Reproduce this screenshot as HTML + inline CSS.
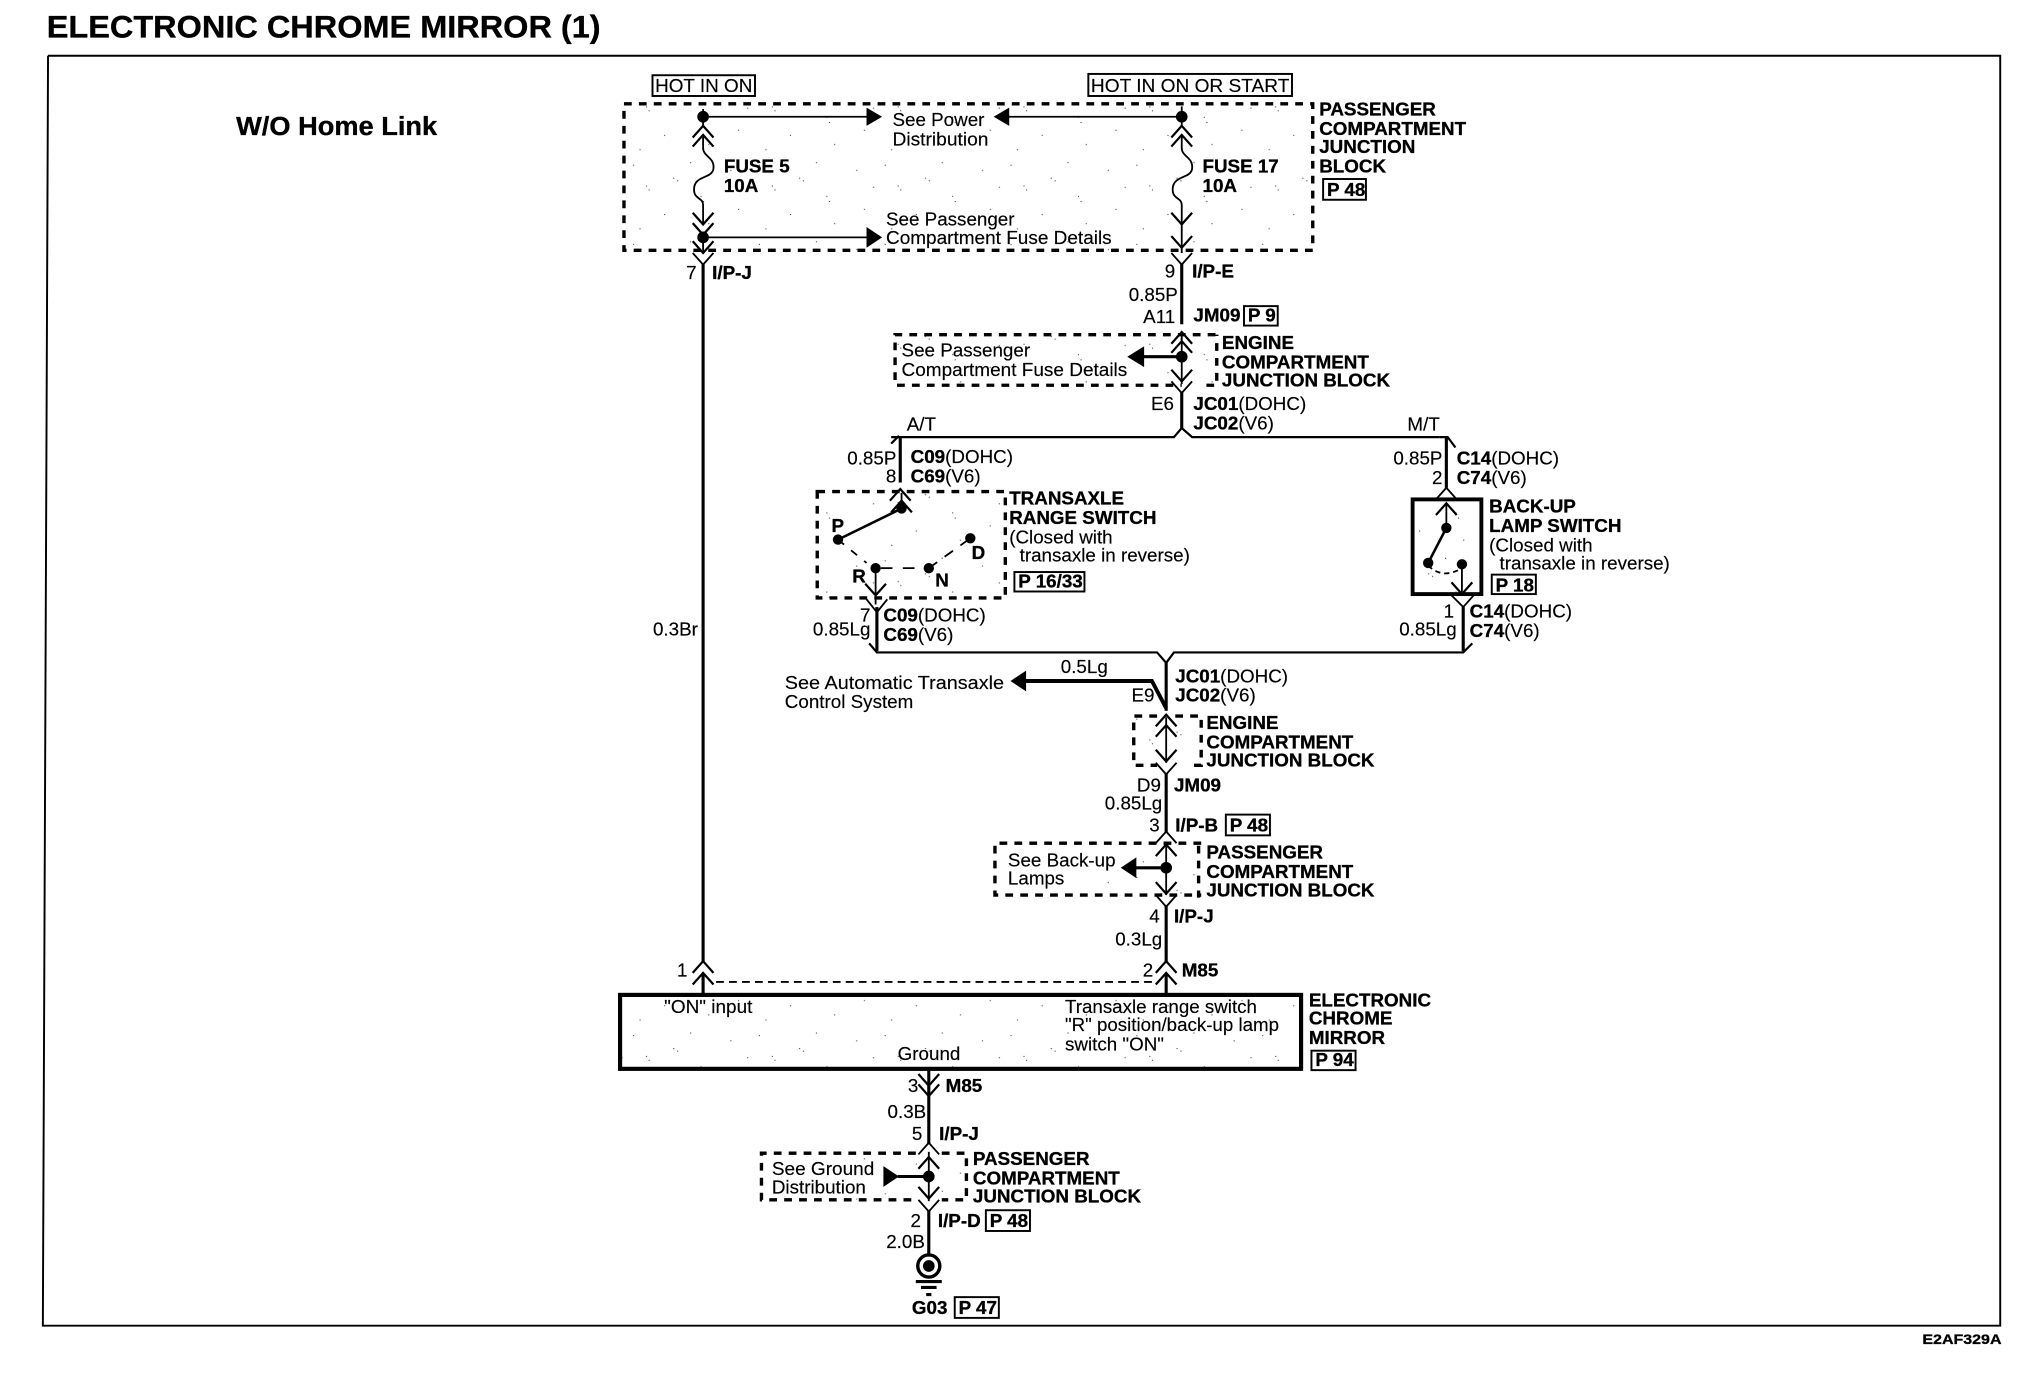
<!DOCTYPE html>
<html><head><meta charset="utf-8">
<style>
html,body{margin:0;padding:0;background:#fff;width:2034px;height:1376px;overflow:hidden}
svg{display:block}
text{font-family:"Liberation Sans",sans-serif;font-size:14.5px;fill:#000;stroke:#000;stroke-width:.12}
.b{font-weight:bold;stroke:#000;stroke-width:.25}
.n{text-anchor:end}
.w{stroke:#000;stroke-width:2.4;fill:none}
.t{stroke:#000;stroke-width:1.4;fill:none}
.d{stroke:#000;stroke-width:2.6;fill:none;stroke-dasharray:6 5.5}
.c{stroke:#000;stroke-width:1.7;fill:none}
</style></head><body>
<svg width="2034" height="1376" viewBox="0 0 1568 1060.8" xmlns="http://www.w3.org/2000/svg">
<defs>
<pattern id="st" width="97" height="61" patternUnits="userSpaceOnUse">
<g fill="#333">
<rect x="3" y="5" width=".8" height=".8"/><rect x="13" y="21" width=".8" height=".8"/><rect x="15" y="24" width=".8" height=".8"/><rect x="27" y="43" width=".8" height=".8"/><rect x="34" y="15" width=".8" height=".8"/><rect x="37" y="17" width=".8" height=".8"/><rect x="47" y="3" width=".8" height=".8"/><rect x="55" y="29" width=".8" height=".8"/><rect x="57" y="33" width=".8" height=".8"/><rect x="61" y="50" width=".8" height=".8"/><rect x="8" y="54" width=".8" height=".8"/><rect x="78" y="9" width=".8" height=".8"/><rect x="84" y="39" width=".8" height=".8"/><rect x="91" y="22" width=".8" height=".8"/>
</g>
</pattern>
<path id="u" class="c" d="M-8 8 L0 -1 L8 8"/>
<path id="v" class="c" d="M-8 -8 L0 1 L8 -8"/>
</defs>
<rect width="1568" height="1061" fill="#fff"/>

<text x="36" y="29" class="b" style="font-size:24px" textLength="427" lengthAdjust="spacingAndGlyphs">ELECTRONIC CHROME MIRROR (1)</text>
<path d="M37 43 H1542 V1022 H33 L37 43" fill="none" stroke="#000" stroke-width="1.5"/>
<text x="182" y="104" class="b" style="font-size:20px" textLength="155" lengthAdjust="spacingAndGlyphs">W/O Home Link</text>
<text x="1482" y="1036" class="b" style="font-size:11px" textLength="61" lengthAdjust="spacingAndGlyphs">E2AF329A</text>

<!-- shaded regions -->
<rect x="481" y="80" width="531" height="113" fill="url(#st)"/>
<rect x="690" y="258" width="248" height="39" fill="url(#st)"/>
<rect x="630" y="379" width="146" height="82" fill="url(#st)"/>
<rect x="1088" y="385" width="54" height="73" fill="url(#st)"/>
<rect x="874" y="552" width="52" height="38" fill="url(#st)"/>
<rect x="840" y="650" width="85" height="40" fill="url(#st)"/>
<rect x="477" y="767" width="527" height="57" fill="url(#st)"/>
<rect x="660" y="889" width="85" height="36" fill="url(#st)"/>

<!-- header tags -->
<rect x="503" y="58" width="79" height="16" fill="none" stroke="#000" stroke-width="1.5"/>
<text x="505" y="71" textLength="75" lengthAdjust="spacingAndGlyphs">HOT IN ON</text>
<rect x="839" y="57" width="157" height="17" fill="none" stroke="#000" stroke-width="1.5"/>
<text x="841" y="71" textLength="153" lengthAdjust="spacingAndGlyphs">HOT IN ON OR START</text>

<!-- passenger compartment junction block (top) -->
<rect x="481" y="80" width="531" height="113" class="d"/>
<text x="1017" y="89" class="b">PASSENGER</text>
<text x="1017" y="104" class="b">COMPARTMENT</text>
<text x="1017" y="118" class="b">JUNCTION</text>
<text x="1017" y="133" class="b">BLOCK</text>
<rect x="1020" y="138" width="33" height="16" fill="none" stroke="#000" stroke-width="1.5"/>
<text x="1023" y="151" class="b">P 48</text>

<text x="688" y="97">See Power</text>
<text x="688" y="112" textLength="74" lengthAdjust="spacingAndGlyphs">Distribution</text>
<text x="683" y="174">See Passenger</text>
<text x="683" y="188" textLength="174" lengthAdjust="spacingAndGlyphs">Compartment Fuse Details</text>
<text x="558" y="133" class="b">FUSE 5</text><text x="558" y="148" class="b">10A</text>
<text x="927" y="133" class="b">FUSE 17</text><text x="927" y="148" class="b">10A</text>

<!-- left fuse column -->
<circle cx="542" cy="90" r="4.5"/>
<path class="t" d="M542 84 V98"/>
<use href="#u" x="542" y="98"/><use href="#u" x="542" y="105"/>
<path class="t" d="M542 104 V114 C542 121 551 121 550 130 C549 138 535 135 535 146 C535 154 542 152 542 158 V172"/>
<use href="#v" x="542" y="172"/><use href="#v" x="542" y="180"/>
<circle cx="542" cy="183" r="4.5"/>
<path class="t" d="M542 183 V194"/>
<use href="#v" x="542" y="194"/><path class="t" d="M534 195 L542 204 L550 195"/>
<path class="t" d="M546 90 H670"/><path d="M668 83 L680 90 L668 97Z"/>
<path class="t" d="M546 183 H670"/><path d="M668 175 L680 183 L668 191Z"/>

<!-- right fuse column -->
<circle cx="911" cy="90" r="4.5"/>
<path class="t" d="M911 82 V98"/>
<use href="#u" x="911" y="98"/><use href="#u" x="911" y="105"/>
<path class="t" d="M911 104 V114 C911 121 920 121 919 130 C918 138 904 135 904 146 C904 154 911 152 911 158 V195"/>
<use href="#v" x="911" y="172"/><use href="#v" x="911" y="190"/>
<path class="t" d="M903 195 L911 204 L919 195"/>
<path class="t" d="M907 90 H776"/><path d="M778 83 L766 90 L778 97Z"/>

<path class="w" d="M542 203 V742"/>
<path class="w" d="M911 203 V250"/>

<text x="537" y="215" class="n">7</text><text x="549" y="215" class="b">I/P-J</text>
<text x="906" y="214" class="n">9</text><text x="919" y="214" class="b">I/P-E</text>
<text x="908" y="232" class="n">0.85P</text>
<text x="906" y="249" class="n">A11</text>
<text x="920" y="248" class="b">JM09</text>
<rect x="959" y="236" width="26" height="15" fill="none" stroke="#000" stroke-width="1.5"/>
<text x="962" y="248" class="b">P 9</text>

<!-- engine comp block 1 -->
<path class="d" d="M937 258 H690 V297 H911 M930 297 H938 V258"/>
<use href="#u" x="911" y="257"/><use href="#u" x="911" y="264"/>
<path class="t" d="M911 258 V296"/>
<circle cx="911" cy="275" r="4.5"/>
<path class="w" d="M908 275 H880"/><path d="M882 267 L869 275 L882 283Z"/>
<use href="#v" x="911" y="293"/><path class="t" d="M903 294 L911 303 L919 294"/>
<text x="695" y="275">See Passenger</text>
<text x="695" y="290" textLength="174" lengthAdjust="spacingAndGlyphs">Compartment Fuse Details</text>
<text x="942" y="269" class="b">ENGINE</text>
<text x="942" y="284" class="b">COMPARTMENT</text>
<text x="942" y="298" class="b">JUNCTION BLOCK</text>
<text x="905" y="316" class="n">E6</text>
<text x="920" y="316"><tspan class="b">JC01</tspan>(DOHC)</text>
<text x="920" y="331"><tspan class="b">JC02</tspan>(V6)</text>

<!-- split A/T M/T -->
<path class="w" d="M911 302 V330"/>
<path class="c" d="M687 337 H905 L911 330 L919 337 H1110"/>
<path class="c" d="M1110 337 H1116 L1122 345 M687 342 L693 336"/>
<path class="w" d="M694 337 V372"/>
<path class="w" d="M1115 337 V376"/>
<text x="699" y="332">A/T</text><text x="1085" y="332">M/T</text>
<text x="691" y="358" class="n">0.85P</text>
<text x="691" y="372" class="n">8</text>
<text x="702" y="357"><tspan class="b">C09</tspan>(DOHC)</text>
<text x="702" y="372"><tspan class="b">C69</tspan>(V6)</text>
<text x="1112" y="358" class="n">0.85P</text>
<text x="1112" y="373" class="n">2</text>
<text x="1123" y="358"><tspan class="b">C14</tspan>(DOHC)</text>
<text x="1123" y="373"><tspan class="b">C74</tspan>(V6)</text>

<!-- transaxle switch -->
<rect x="630" y="379" width="145" height="82" class="d"/>
<use href="#u" x="694" y="378"/><use href="#u" x="695" y="387"/>
<path class="t" d="M695 380 V392"/>
<circle cx="695" cy="392" r="4"/>
<path stroke="#000" stroke-width="2" d="M695 392 L646 416"/>
<circle cx="646" cy="416" r="4"/>
<circle cx="675" cy="438" r="4"/>
<circle cx="716" cy="438" r="4"/>
<circle cx="748" cy="415" r="4"/>
<path class="t" stroke-dasharray="6 7" d="M646 416 L668 434"/>
<path class="t" stroke-dasharray="9 8" d="M679 438 H712"/>
<path class="t" stroke-dasharray="8 7" d="M716 438 L748 415"/>
<text x="641" y="410" class="b">P</text>
<text x="657" y="449" class="b">R</text>
<text x="721" y="452" class="b">N</text>
<text x="749" y="431" class="b">D</text>
<path class="t" d="M675 438 V466"/>
<use href="#v" x="675" y="458"/>
<path class="t" d="M668 462 L676 472 L684 462"/>
<text x="778" y="389" class="b">TRANSAXLE</text>
<text x="778" y="404" class="b">RANGE SWITCH</text>
<text x="778" y="419">(Closed with</text>
<text x="786" y="433">transaxle in reverse)</text>
<rect x="782" y="441" width="54" height="15" fill="none" stroke="#000" stroke-width="1.5"/>
<text x="785" y="453" class="b">P 16/33</text>

<!-- back-up lamp switch -->
<rect x="1089" y="385" width="53" height="73" fill="none" stroke="#000" stroke-width="3"/>
<path class="t" d="M1107 385 L1115 376 L1123 385"/>
<use href="#u" x="1115" y="389"/>
<path class="t" d="M1115 389 V407"/>
<circle cx="1115" cy="407" r="4"/>
<path stroke="#000" stroke-width="2" d="M1115 407 L1101 434"/>
<circle cx="1101" cy="434" r="4"/>
<circle cx="1127" cy="435" r="4"/>
<path class="t" stroke-dasharray="4 3" d="M1101 436 Q1112 447 1127 438"/>
<path class="t" d="M1127 435 V458"/>
<use href="#v" x="1127" y="457"/>
<path class="t" d="M1119 459 L1128 468 L1136 459"/>
<text x="1148" y="395" class="b">BACK-UP</text>
<text x="1148" y="410" class="b">LAMP SWITCH</text>
<text x="1148" y="425">(Closed with</text>
<text x="1156" y="439">transaxle in reverse)</text>
<rect x="1150" y="443" width="34" height="15" fill="none" stroke="#000" stroke-width="1.5"/>
<text x="1153" y="456" class="b">P 18</text>

<!-- lower branches -->
<path class="w" d="M676 468 V502"/>
<path class="w" d="M1128 468 V502"/>
<text x="671" y="479" class="n">7</text>
<text x="671" y="490" class="n">0.85Lg</text>
<text x="681" y="479"><tspan class="b">C09</tspan>(DOHC)</text>
<text x="681" y="494"><tspan class="b">C69</tspan>(V6)</text>
<text x="1121" y="476" class="n">1</text>
<text x="1123" y="490" class="n">0.85Lg</text>
<text x="1133" y="476"><tspan class="b">C14</tspan>(DOHC)</text>
<text x="1133" y="491"><tspan class="b">C74</tspan>(V6)</text>
<path class="c" d="M670 496 L676 503 H892 L899 511 L905 503 H1128 L1135 496"/>
<path class="w" d="M899 510 V548"/>
<path stroke="#000" fill="none" stroke-width="3" d="M790 525 H888 L899 546"/>
<path d="M791 517 L779 525 L791 533Z"/>
<text x="854" y="519" class="n">0.5Lg</text>
<text x="605" y="531" textLength="169" lengthAdjust="spacingAndGlyphs">See  Automatic Transaxle</text>
<text x="605" y="546">Control System</text>
<text x="890" y="541" class="n">E9</text>
<text x="906" y="526"><tspan class="b">JC01</tspan>(DOHC)</text>
<text x="906" y="541"><tspan class="b">JC02</tspan>(V6)</text>

<!-- engine block 2 -->
<path class="d" d="M892 552 H874 V590 H892 M906 552 H926 V590 H916"/>
<use href="#u" x="899" y="552"/><use href="#u" x="899" y="560"/>
<path class="t" d="M899 553 V588"/>
<use href="#v" x="899" y="586"/>
<path class="t" d="M891 588 L899 597 L907 588"/>
<text x="930" y="562" class="b">ENGINE</text>
<text x="930" y="577" class="b">COMPARTMENT</text>
<text x="930" y="591" class="b">JUNCTION BLOCK</text>
<path class="w" d="M899 596 V642"/>
<text x="895" y="610" class="n">D9</text>
<text x="905" y="610" class="b">JM09</text>
<text x="896" y="624" class="n">0.85Lg</text>
<text x="894" y="641" class="n">3</text>
<text x="906" y="641" class="b">I/P-B</text>
<rect x="945" y="628" width="34" height="16" fill="none" stroke="#000" stroke-width="1.5"/>
<text x="948" y="641" class="b">P 48</text>

<!-- passenger block 2 -->
<path class="d" d="M926 650 H767 V690 H926"/>
<path class="d" d="M924 652 V692"/>
<path class="t" d="M891 650 L899 641 L907 650"/>
<use href="#u" x="899" y="652"/>
<path class="t" d="M899 650 V690"/>
<circle cx="899" cy="669" r="4.5"/>
<path class="w" d="M896 669 H873"/><path d="M876 661 L864 669 L876 677Z"/>
<use href="#v" x="899" y="688"/>
<path class="t" d="M891 690 L899 699 L907 690"/>
<text x="777" y="668">See Back-up</text>
<text x="777" y="682">Lamps</text>
<text x="930" y="662" class="b">PASSENGER</text>
<text x="930" y="677" class="b">COMPARTMENT</text>
<text x="930" y="691" class="b">JUNCTION BLOCK</text>
<path class="w" d="M899 698 V742"/>
<text x="894" y="711" class="n">4</text>
<text x="905" y="711" class="b">I/P-J</text>
<text x="896" y="729" class="n">0.3Lg</text>

<!-- bottom of wires -->
<use href="#u" x="542" y="742"/><use href="#u" x="542" y="751"/>
<use href="#u" x="899" y="742"/><use href="#u" x="899" y="751"/>
<path class="w" d="M542 751 V767"/>
<path class="w" d="M899 751 V767"/>
<path class="t" stroke-dasharray="6 4" d="M552 757 H888"/>
<text x="530" y="753" class="n">1</text>
<text x="889" y="753" class="n">2</text>
<text x="911" y="753" class="b">M85</text>
<text x="538" y="490" class="n">0.3Br</text>

<!-- ECM box -->
<rect x="478" y="767" width="525" height="57" fill="none" stroke="#000" stroke-width="3.2"/>
<text x="512" y="781" textLength="68" lengthAdjust="spacingAndGlyphs">"ON" input</text>
<text x="821" y="781" textLength="148" lengthAdjust="spacingAndGlyphs">Transaxle range switch</text>
<text x="821" y="795" textLength="165" lengthAdjust="spacingAndGlyphs">"R" position/back-up lamp</text>
<text x="821" y="810">switch "ON"</text>
<text x="692" y="817">Ground</text>
<text x="1009" y="776" class="b">ELECTRONIC</text>
<text x="1009" y="790" class="b">CHROME</text>
<text x="1009" y="805" class="b">MIRROR</text>
<rect x="1011" y="810" width="34" height="15" fill="none" stroke="#000" stroke-width="1.5"/>
<text x="1014" y="822" class="b">P 94</text>

<!-- lower chain -->
<path class="w" d="M716 825 V882"/>
<use href="#v" x="716" y="836"/><use href="#v" x="716" y="844"/>
<text x="708" y="842" class="n">3</text>
<text x="729" y="842" class="b">M85</text>
<text x="714" y="862" class="n">0.3B</text>
<text x="711" y="879" class="n">5</text>
<text x="724" y="879" class="b">I/P-J</text>

<path class="d" d="M706 889 H587 V925 H706 M726 889 H745 V925 H726"/>
<path class="t" d="M708 890 L716 881 L724 890"/>
<use href="#u" x="716" y="893"/>
<path class="t" d="M716 888 V926"/>
<circle cx="716" cy="907" r="4.5"/>
<path class="w" d="M713 907 H692"/><path d="M681 899 L693 907 L681 915Z"/>
<use href="#v" x="716" y="923"/>
<path class="t" d="M708 925 L716 934 L724 925"/>
<text x="595" y="906" textLength="79" lengthAdjust="spacingAndGlyphs">See Ground</text>
<text x="595" y="920">Distribution</text>
<text x="750" y="898" class="b">PASSENGER</text>
<text x="750" y="913" class="b">COMPARTMENT</text>
<text x="750" y="927" class="b">JUNCTION BLOCK</text>
<path class="w" d="M716 933 V967"/>
<text x="710" y="946" class="n">2</text>
<text x="723" y="946" class="b">I/P-D</text>
<rect x="760" y="933" width="34" height="16" fill="none" stroke="#000" stroke-width="1.5"/>
<text x="763" y="946" class="b">P 48</text>
<text x="713" y="962" class="n">2.0B</text>
<circle cx="716" cy="976" r="8.5" fill="#fff" stroke="#000" stroke-width="2.6"/>
<circle cx="716" cy="976" r="4.5"/>
<path stroke="#000" stroke-width="2.4" d="M706 988 H726 M710 992.5 H722 M714 998 H718"/>
<text x="703" y="1013" class="b">G03</text>
<rect x="736" y="1000" width="34" height="16" fill="none" stroke="#000" stroke-width="1.5"/>
<text x="739" y="1013" class="b">P 47</text>
</svg>
</body></html>
